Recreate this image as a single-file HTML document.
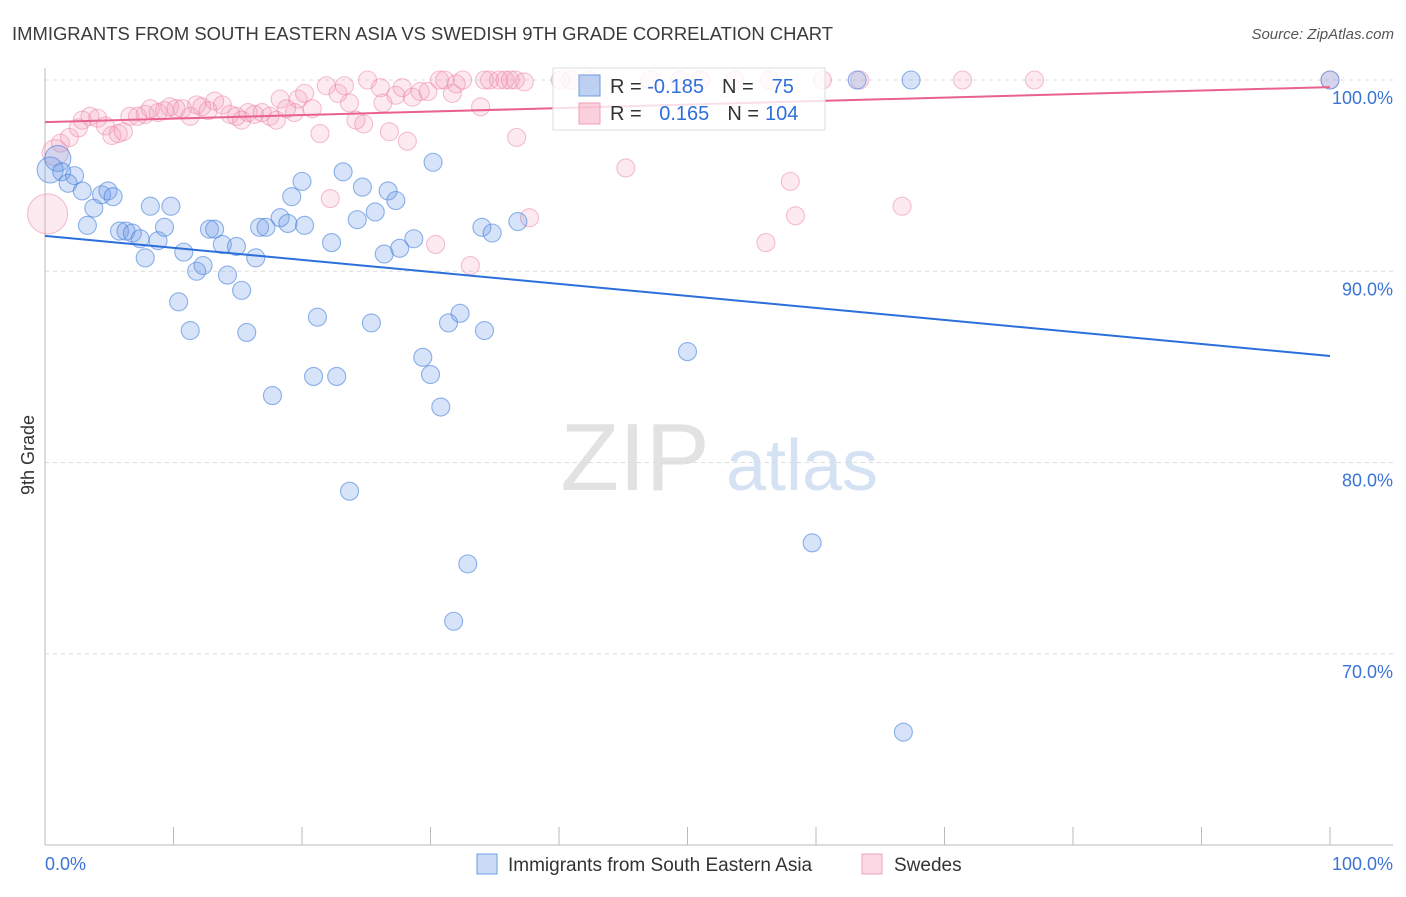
<!DOCTYPE html>
<html><head><meta charset="utf-8">
<style>
body{margin:0;background:#fff;font-family:"Liberation Sans",sans-serif;}
svg text{font-family:"Liberation Sans",sans-serif;}
</style></head>
<body>
<svg id="chart" width="1406" height="892" viewBox="0 0 1406 892" xmlns="http://www.w3.org/2000/svg">
<text x="12" y="40" font-size="18" fill="#3a3a3a" textLength="821" lengthAdjust="spacingAndGlyphs">IMMIGRANTS FROM SOUTH EASTERN ASIA VS SWEDISH 9TH GRADE CORRELATION CHART</text>
<text x="1394" y="39" font-size="15" fill="#555" text-anchor="end" font-style="italic">Source: ZipAtlas.com</text>
<g>
<text x="635" y="490" font-size="96" fill="#e2e2e2" text-anchor="middle" font-family="Liberation Serif, serif">ZIP</text>
<text x="802" y="490" font-size="72" fill="#d5e2f4" text-anchor="middle">atlas</text>
</g>
<g id="grid"></g>
<g id="axes"></g>
<g id="points"></g>
<g id="lines"></g>
<g>
<rect x="553" y="68" width="272" height="62" fill="rgba(255,255,255,0.8)" stroke="#ddd"/>
<rect x="579" y="75" width="21" height="21" fill="rgba(110,155,230,0.45)" stroke="#6d9be0"/>
<text x="610" y="93" font-size="20" fill="#333">R = <tspan fill="#2f6fd8">-0.185</tspan><tspan dx="18">N =</tspan><tspan dx="18" fill="#2f6fd8">75</tspan></text>
<rect x="579" y="103" width="21" height="21" fill="rgba(245,150,180,0.45)" stroke="#f0a0b8"/>
<text x="610" y="120" font-size="20" fill="#333">R = <tspan dx="12" fill="#2f6fd8">0.165</tspan><tspan dx="18">N =</tspan><tspan dx="6" fill="#2f6fd8">104</tspan></text>
</g>
<g>
<rect x="477" y="854" width="20" height="20" fill="rgba(110,155,230,0.35)" stroke="#6d9be0"/>
<text x="508" y="871" font-size="19" fill="#333">Immigrants from South Eastern Asia</text>
<rect x="862" y="854" width="20" height="20" fill="rgba(245,150,180,0.35)" stroke="#f0a0b8"/>
<text x="894" y="871" font-size="19" fill="#333">Swedes</text>
</g>
<text x="34" y="455" font-size="18" fill="#333" text-anchor="middle" transform="rotate(-90 34 455)">9th Grade</text>
</svg>
<script>
const yTicks=[100,90,80,70];
const yTickLabels=["100.0%","90.0%","80.0%","70.0%"];
const xTicks=[0,10,20,30,40,50,60,70,80,90,100];
const xEndLabels=["0.0%","100.0%"];
const blueX=[0.4,1.0,1.3,2.3,1.8,2.9,3.3,3.8,4.4,4.9,5.3,5.8,6.3,6.8,7.4,8.2,8.8,9.3,9.8,7.8,10.4,10.8,11.3,11.8,12.3,12.8,13.2,13.8,14.2,14.9,15.3,15.7,16.4,16.7,17.2,17.7,18.3,18.9,19.2,20.0,20.2,20.9,21.2,22.3,22.7,23.2,23.7,24.3,24.7,25.4,25.7,26.4,26.7,27.3,27.6,28.7,29.4,30.0,30.2,30.8,31.4,31.8,32.3,32.9,34.0,34.2,34.8,36.8,50.0,59.7,63.2,66.8,67.4,100];
const blueY=[95.3,95.9,95.2,95.0,94.6,94.2,92.4,93.3,94.0,94.2,93.9,92.1,92.1,92.0,91.7,93.4,91.6,92.3,93.4,90.7,88.4,91.0,86.9,90.0,90.3,92.2,92.2,91.4,89.8,91.3,89.0,86.8,90.7,92.3,92.3,83.5,92.8,92.5,93.9,94.7,92.4,84.5,87.6,91.5,84.5,95.2,78.5,92.7,94.4,87.3,93.1,90.9,94.2,93.7,91.2,91.7,85.5,84.6,95.7,82.9,87.3,71.7,87.8,74.7,92.3,86.9,92.0,92.6,85.8,75.8,100,65.9,100,100];
const blueBig=[0,1];
const pinkX=[0.2,0.8,1.2,1.9,2.6,2.9,3.5,4.1,4.7,5.2,5.7,6.1,6.6,7.2,7.8,8.2,8.8,9.3,9.7,10.2,10.7,11.3,11.8,12.2,12.7,13.2,13.8,14.4,14.9,15.3,15.8,16.3,16.9,17.5,18.0,18.3,18.8,19.4,19.7,20.2,20.8,21.4,21.9,22.2,22.8,23.3,23.7,24.2,24.8,25.1,26.1,26.3,26.8,27.3,27.8,28.2,28.6,29.2,29.8,30.4,30.7,31.1,31.7,32.0,32.5,33.1,33.9,34.2,34.6,35.3,35.8,36.2,36.6,36.7,37.3,37.7,40.1,40.9,42.4,45.2,47.1,49.4,51.0,53.7,56.1,56.4,58.0,58.4,60.5,63.4,66.7,71.4,77.0,100];
const pinkY=[93.0,96.2,96.7,97.0,97.5,97.9,98.1,98.0,97.6,97.1,97.2,97.3,98.1,98.1,98.2,98.5,98.3,98.4,98.6,98.5,98.5,98.1,98.7,98.6,98.4,98.9,98.7,98.2,98.1,97.9,98.3,98.2,98.3,98.1,97.9,99.0,98.5,98.3,99.0,99.3,98.5,97.2,99.7,93.8,99.3,99.7,98.8,97.9,97.7,100,99.6,98.8,97.3,99.2,99.6,96.8,99.1,99.4,99.4,91.4,100,100,99.3,99.8,100,90.3,98.6,100,100,100,100,100,100,97.0,99.9,92.8,100,100,100,95.4,100,100,100,100,91.5,100,94.7,92.9,100,100,93.4,100,100,100];
const pinkBig=[0,1];
const blueTrend=[91.85,85.57];
const pinkTrend=[97.8,99.63];

const X0=45,X1=1330,Y0=80,Y1=845,YMIN=60,YMAX=100;
const sx=v=>X0+(v/100)*(X1-X0);
const sy=v=>Y0+(YMAX-v)/(YMAX-YMIN)*(Y1-Y0);
const NS="http://www.w3.org/2000/svg";
function mk(tag,attrs,parent){const e=document.createElementNS(NS,tag);for(const k in attrs)e.setAttribute(k,attrs[k]);parent.appendChild(e);return e;}
const grid=document.getElementById('grid'),axes=document.getElementById('axes'),pts=document.getElementById('points'),lines=document.getElementById('lines');
yTicks.forEach((t,i)=>{
 const g=mk('line',{x1:X0,x2:1393,y1:sy(t),y2:sy(t),stroke:'#dcdcdc','stroke-dasharray':'4,4'},grid);
 
 
 const l=mk('text',{x:1393,y:sy(t)+24,'font-size':18,fill:'#3b73d6','text-anchor':'end'},axes);
 l.textContent=yTickLabels[i];
 
 
});
const ax=mk('line',{x1:X0,x2:X0,y1:68,y2:Y1,stroke:'#bbb'},axes);


const bx=mk('line',{x1:X0,x2:1393,y1:Y1,y2:Y1,stroke:'#bbb'},axes);


xTicks.forEach(t=>{
 const k=mk('line',{x1:sx(t),x2:sx(t),y1:Y1,y2:Y1-(t===0?0:18),stroke:'#bbb'},axes);
 
 
});
const xl0=mk('text',{x:45,y:870,'font-size':18,fill:'#3b73d6'},axes);xl0.textContent=xEndLabels[0];


const xl1=mk('text',{x:1393,y:870,'font-size':18,fill:'#3b73d6','text-anchor':'end'},axes);xl1.textContent=xEndLabels[1];


function drawSeries(xs,ys,big,fill,stroke,name){
 xs.forEach((x,i)=>{
  const r=big.includes(i)?(i===0&&name==='pink-point'?20:13):9;
  const c=mk('circle',{cx:sx(x),cy:sy(ys[i]),r:r,fill:fill,stroke:stroke,'stroke-width':1.1},pts);
  
  
 });
}
drawSeries(pinkX,pinkY,pinkBig,'rgba(245,150,180,0.2)','rgba(236,130,165,0.5)','pink-point');
drawSeries(blueX,blueY,blueBig,'rgba(110,155,230,0.28)','rgba(70,130,220,0.6)','blue-point');
const bl=mk('line',{x1:sx(0),y1:sy(blueTrend[0]),x2:sx(100),y2:sy(blueTrend[1]),stroke:'#2a6fdb','stroke-width':2},lines);


const pl=mk('line',{x1:sx(0),y1:sy(pinkTrend[0]),x2:sx(100),y2:sy(pinkTrend[1]),stroke:'#e8628c','stroke-width':2},lines);


</script>
</body></html>
